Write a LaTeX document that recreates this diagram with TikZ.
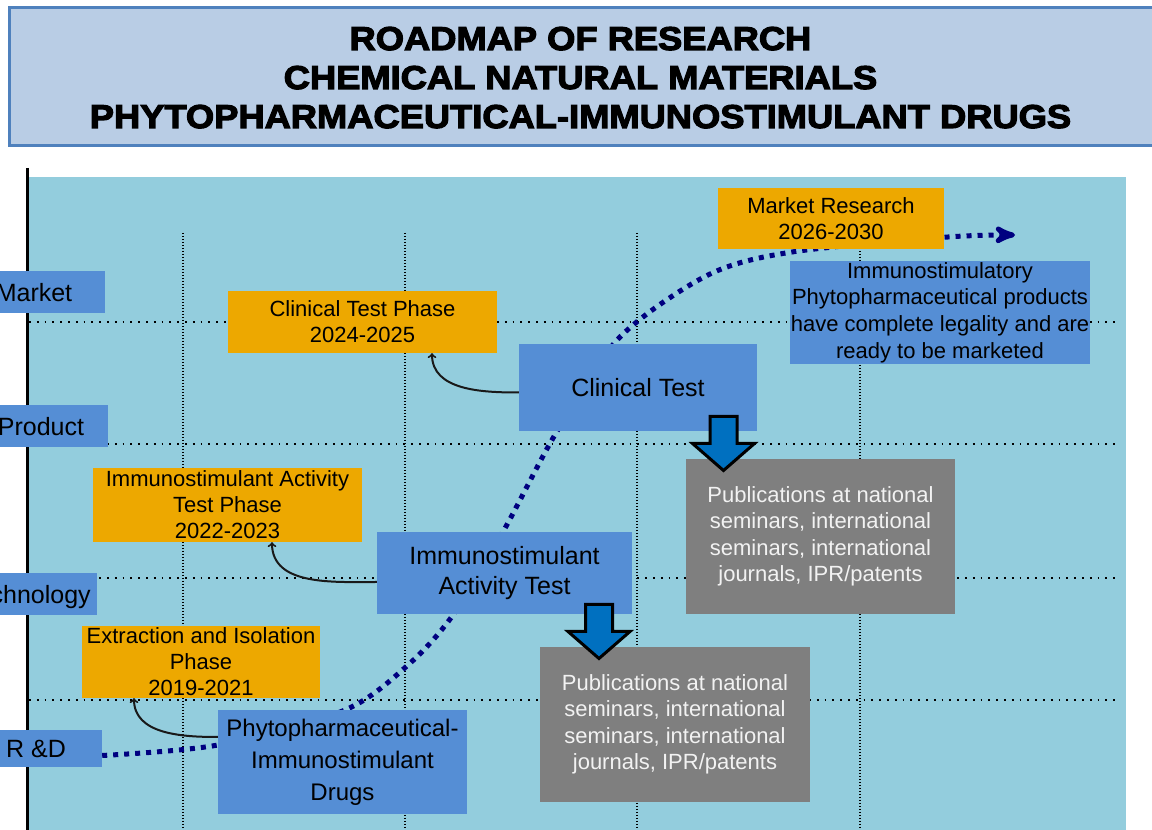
\documentclass[tikz,border=0pt]{standalone}
\usepackage{fontspec}
\setmainfont{Liberation Sans}
\newfontfamily\titlefont[FakeBold=3.5,FakeStretch=1.1]{Liberation Sans Bold}
\usetikzlibrary{arrows}

\definecolor{panelblue}{RGB}{147,205,221}
\definecolor{bannerfill}{RGB}{185,205,229}
\definecolor{bannerline}{RGB}{79,129,189}
\definecolor{boxblue}{RGB}{85,142,213}
\definecolor{phaseorange}{RGB}{237,168,0}
\definecolor{pubgray}{RGB}{127,127,127}
\definecolor{pubtext}{RGB}{242,242,242}
\definecolor{arrowblue}{RGB}{0,112,192}
\definecolor{curvenavy}{RGB}{0,0,128}

\tikzset{
  banner/.style={draw=bannerline,line width=3pt,fill=bannerfill},
  titletext/.style={anchor=base,inner sep=0pt,font=\titlefont\fontsize{33}{40}\selectfont},
  rowlabel/.style={fill=boxblue,inner sep=0pt,minimum height=42pt,text depth=0pt,font=\fontsize{25}{28}\selectfont},
  phase/.style={fill=phaseorange,inner sep=0pt,align=center,font=\fontsize{22}{26}\selectfont},
  stage/.style={fill=boxblue,inner sep=0pt,align=center,font=\fontsize{25}{30}\selectfont},
  goal/.style={fill=boxblue,inner sep=0pt,align=center,font=\fontsize{22}{26.7}\selectfont},
  outcome/.style={fill=pubgray,text=pubtext,inner sep=0pt,align=center,font=\fontsize{22}{26.5}\selectfont},
  blockarrow/.style={draw=black,line width=3pt,fill=arrowblue,line join=miter},
  vgrid/.style={line width=1.5pt,dash pattern=on 1.5pt off 1.5pt},
  hgrid/.style={line width=1.8pt,dash pattern=on 1.8pt off 6pt},
  growth/.style={draw=curvenavy,line width=5pt,dash pattern=on 5pt off 6pt},
  link/.style={line width=2pt,black!90}
}

\begin{document}
\begin{tikzpicture}[x=1pt,y=1pt,>=to]
\useasboundingbox (0,0) rectangle (1152,830);
\clip (0,0) rectangle (1152,830);
% title banner
\node[banner,anchor=south west,minimum width=1160pt,minimum height=138pt] (banner) at (8,683) {};
\node[titletext] (title1) at (580.5,780) {ROADMAP OF RESEARCH};
\node[titletext] (title2) at (580.5,741) {CHEMICAL NATURAL MATERIALS};
\node[titletext] (title3) at (580.5,702) {PHYTOPHARMACEUTICAL-IMMUNOSTIMULANT DRUGS};
% roadmap panel, grid and axis
\fill[panelblue] (29,-5) rectangle (1126,653);
\foreach \gx in {183,405,637,860}
  \draw[vgrid] (\gx,597) -- (\gx,-5);
\foreach \gy in {508,386,252,130}
  \draw[hgrid] (29,\gy) -- (1118,\gy);
\draw[line width=3pt] (27,662) -- (27,-5);
% row labels
\node[rowlabel,minimum width=142pt] (market) at (34,538) {Market};
\node[rowlabel,minimum width=134pt] (product) at (41,404) {Product};
\node[rowlabel,minimum width=139pt] (technology) at (27.5,236) {Technology};
\node[rowlabel,minimum width=132pt,minimum height=37pt] (rd) at (36,81.5) {R \&D};
% growth curve, behind the boxes
\coordinate (curveend) at (1015,595);
\draw[growth,-stealth'] plot[smooth] coordinates {([yshift=-7pt]rd.east) (218,85) (345,120)
  (408,165) (453,215) (504,300) (556,397) (619,492) (708,555) (792,578) (948,593) (curveend)};
% stages and phases
\node[phase,minimum width=226pt,minimum height=61pt] (mr) at (831,611.5) {Market Research\\2026-2030};
\node[goal,minimum width=300pt,minimum height=103pt] (goal) at (940,517.5)
  {Immunostimulatory\\Phytopharmaceutical products\\have complete legality and are\\ready to be marketed};
\node[phase,minimum width=269pt,minimum height=62pt] (ctp) at (362.5,508) {Clinical Test Phase\\2024-2025};
\node[stage,minimum width=238pt,minimum height=87pt] (ct) at (638,442.5) {Clinical Test};
\node[phase,minimum width=269pt,minimum height=74pt] (iatp) at (227.5,325) {Immunostimulant Activity\\Test Phase\\2022-2023};
\node[stage,minimum width=255pt,minimum height=82pt] (iat) at (504.5,257) {Immunostimulant\\Activity Test};
\node[outcome,minimum width=269pt,minimum height=155pt] (pub1) at (820.5,293.5)
  {Publications at national\\seminars, international\\seminars, international\\journals, IPR/patents};
\node[outcome,minimum width=270pt,minimum height=155pt] (pub2) at (675,105.5)
  {Publications at national\\seminars, international\\seminars, international\\journals, IPR/patents};
\node[phase,minimum width=238pt,minimum height=72pt] (eip) at (201,168) {Extraction and Isolation\\Phase\\2019-2021};
\node[stage,font=\fontsize{24}{32}\selectfont,minimum width=249pt,minimum height=104pt] (drug) at (342.5,68)
  {Phytopharmaceutical-\\Immunostimulant\\Drugs};
% outputs
\coordinate (down1) at (723.5,413.5);
\coordinate (down2) at (599,225.5);
\draw[blockarrow] (down1) ++(-13.5,0) -- ++(0,-27) -- ++(-17.5,0) -- ++(31,-27)
  -- ++(31,27) -- ++(-17.5,0) -- ++(0,27) -- cycle;
\draw[blockarrow] (down2) ++(-13.5,0) -- ++(0,-27) -- ++(-17.5,0) -- ++(31,-27)
  -- ++(31,27) -- ++(-17.5,0) -- ++(0,27) -- cycle;
% links back to the phases
\draw[link,->] ([yshift=-5pt]ct.west) to[out=180,in=-90] ([xshift=69.5pt]ctp.south);
\draw[link,->] ([yshift=-9pt]iat.west) to[out=180,in=-90] ([xshift=44.5pt]iatp.south);
\draw[link,->] ([yshift=25pt]drug.west) to[out=180,in=-90] ([xshift=-67pt]eip.south);
\end{tikzpicture}
\end{document}
